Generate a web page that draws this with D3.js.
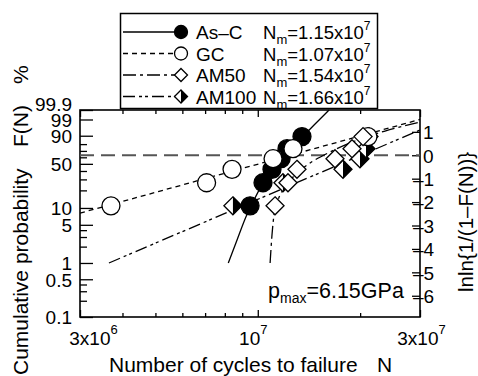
<!DOCTYPE html>
<html>
<head>
<meta charset="utf-8">
<script src="https://cdn.jsdelivr.net/npm/d3@7"></script>
<style>
  body { margin: 0; background: #fff; }
  text { font-family: "Liberation Sans", Arial, sans-serif; }
</style>
</head>
<body>
<div id="chart"></div>
<script>
// series
const seriesNames = ["As–C", "GC", "AM50", "AM100"];
const nmValues = ["1.15", "1.07", "1.54", "1.66"];

// cumulative probability (%) of the six specimens in every series
const rankF = [10.9, 26.6, 42.2, 57.8, 73.4, 89.1];

// cycles to failure
const ascN = [9.49e6, 1.036e7, 1.101e7, 1.171e7, 1.219e7, 1.349e7];
const gcN = [3.70e6, 7.07e6, 8.40e6, 1.109e7, 1.269e7, 2.109e7];
const am50N = [1.124e7, 1.227e7, 1.304e7, 1.687e7, 1.893e7, 2.04e7];
const am100N = [8.45e6, 1.186e7, 1.781e7, 1.998e7, 2.081e7, 2.124e7];

// fitted Weibull lines, [N, F%]
const ascFit = [[8.19e6, 1.0], [8.69e6, 2.65], [9.28e6, 7.5], [9.55e6, 10.8], [1.036e7, 26.3],
  [1.101e7, 41.3], [1.178e7, 58.7], [1.244e7, 74.4], [1.359e7, 89.7], [1.484e7, 98.1], [1.62e7, 99.9]];
const gcFit = [[3e6, 8.1], [3e7, 99.0]];
const am50Fit = [[1.087e7, 1.0], [1.101e7, 3.27], [1.116e7, 7.5], [1.147e7, 13.75], [1.203e7, 22.7],
  [1.287e7, 35.0], [1.425e7, 51.2], [1.631e7, 68.3], [1.931e7, 84.1], [2.367e7, 94.0], [3e7, 98.4]];
const am100Fit = [[3.65e6, 1.0], [3e7, 94.7]];

// ticks
const xMajor = [3e6, 1e7, 3e7];
const xMinor = [4e6, 5e6, 6e6, 7e6, 8e6, 9e6, 2e7];
const leftMajor = [0.1, 0.5, 1, 5, 10, 50, 90, 99, 99.9];
const leftMinor = [0.2, 0.3, 0.4, 2, 3, 4, 20, 30, 40, 60, 70, 80];
const rightTicks = [-6, -5, -4, -3, -2, -1, 0, 1];

const font = '"Liberation Sans", Arial, sans-serif';
const weib = F => Math.log(-Math.log(1 - F / 100));

const plot = {left: 80, top: 110, right: 420, bottom: 317};

const svg = d3.select("#chart")
  .append("svg")
  .attr("width", 478)
  .attr("height", 376);

const x = d3.scaleLog().domain([3e6, 3e7]).range([plot.left, plot.right]);
const y = d3.scaleLinear().domain([weib(0.1), weib(99.9)]).range([plot.bottom, plot.top]);

// axes (ticks point inwards)
function styleAxis(g) {
  g.select(".domain").remove();
  g.attr("font-family", font).attr("font-size", 19);
  g.selectAll("line").attr("stroke", "#000").attr("stroke-width", 1.3);
}

svg.append("g").attr("transform", `translate(${plot.left},0)`)
  .call(d3.axisLeft(y).tickValues(leftMinor.map(weib)).tickSize(-7).tickFormat(""))
  .call(styleAxis);
const gLeft = svg.append("g").attr("transform", `translate(${plot.left},0)`)
  .call(d3.axisLeft(y).tickValues(leftMajor.map(weib)).tickSize(-13).tickPadding(8)
    .tickFormat(d => String(leftMajor.find(f => Math.abs(weib(f) - d) < 1e-9))))
  .call(styleAxis);
gLeft.selectAll("text").attr("fill", "#000")
  .attr("dy", d => Math.abs(d - weib(99.9)) < 1e-9 ? "0" : "0.36em");

const gRight = svg.append("g").attr("transform", `translate(${plot.right},0)`)
  .call(d3.axisRight(y).tickValues(rightTicks).tickSize(-8).tickPadding(3)
    .tickFormat(d => d < 0 ? "–" + (-d) : String(d)))
  .call(styleAxis);
gRight.selectAll("text").attr("fill", "#000").attr("dy", "0.36em")
  .attr("x", d => d < 0 ? -7 : 3);

svg.append("g").attr("transform", `translate(0,${plot.bottom})`)
  .call(d3.axisBottom(x).tickValues(xMinor).tickSize(-4).tickFormat(""))
  .call(styleAxis);
svg.append("g").attr("transform", `translate(0,${plot.top})`)
  .call(d3.axisTop(x).tickValues(xMinor).tickSize(-4).tickFormat(""))
  .call(styleAxis);
svg.append("g").attr("transform", `translate(0,${plot.top})`)
  .call(d3.axisTop(x).tickValues(xMajor).tickSize(-7).tickFormat(""))
  .call(styleAxis);
const gBottom = svg.append("g").attr("transform", `translate(0,${plot.bottom})`)
  .call(d3.axisBottom(x).tickValues(xMajor).tickSize(-7).tickFormat(""))
  .call(styleAxis);

// bottom labels with superscripts
gBottom.selectAll(".tick text").each(function(d, i) {
  const t = d3.select(this).attr("fill", "#000").attr("y", 28).attr("dy", null)
    .attr("text-anchor", "middle").attr("dx", i === 0 ? 13 : (i === 1 ? -5 : 1));
  const e = Math.floor(Math.log10(d) + 1e-9);
  const m = Math.round(d / Math.pow(10, e));
  t.append("tspan").text(m === 1 ? "10" : m + "x10");
  t.append("tspan").attr("font-size", 13).attr("dy", -11).text(e);
});

// frame
svg.append("rect")
  .attr("x", plot.left).attr("y", plot.top)
  .attr("width", plot.right - plot.left).attr("height", plot.bottom - plot.top)
  .attr("fill", "none").attr("stroke", "#000").attr("stroke-width", 1.6);

// 63.2 % line
svg.append("line")
  .attr("x1", plot.left).attr("x2", plot.right)
  .attr("y1", y(0)).attr("y2", y(0))
  .attr("stroke", "#555").attr("stroke-width", 2).attr("stroke-dasharray", "14,7");

// fitted lines
svg.append("clipPath").attr("id", "clip")
  .append("rect").attr("x", plot.left).attr("y", plot.top - 2)
  .attr("width", plot.right - plot.left).attr("height", plot.bottom - plot.top + 2);

const dashes = ["", "5,4", "13,4,3,4", "12,4,3,3,3,4"];
const fits = [ascFit, gcFit, am50Fit, am100Fit];

const line = d3.line()
  .x(d => x(d[0]))
  .y(d => y(weib(d[1])))
  .curve(d3.curveMonotoneX);

svg.append("g").attr("clip-path", "url(#clip)")
  .selectAll("path")
  .data(fits)
  .enter()
  .append("path")
  .attr("d", line)
  .attr("fill", "none")
  .attr("stroke", "#000")
  .attr("stroke-width", 1.3)
  .attr("stroke-dasharray", (d, i) => dashes[i]);

// markers
const diamond = s => `M0,${-s}L${s},0L0,${s}L${-s},0Z`;
const halfDiamond = s => `M0,${-s}L${s},0L0,${s}Z`;

function drawMarker(g, kind, s) {
  if (kind === 0 || kind === 1) {
    g.append("circle").attr("r", s)
      .attr("fill", kind === 0 ? "#000" : "#fff")
      .attr("stroke", "#000").attr("stroke-width", 1.3);
  } else {
    g.append("path").attr("d", diamond(s))
      .attr("fill", "#fff").attr("stroke", "#000").attr("stroke-width", 1.3);
    if (kind === 3) {
      g.append("path").attr("d", halfDiamond(s)).attr("fill", "#000");
    }
  }
}

const seriesN = [ascN, gcN, am50N, am100N];
// drawing order: AM100, As-C, GC, AM50
[3, 0, 1, 2].forEach(k => {
  seriesN[k].forEach((n, i) => {
    const g = svg.append("g").attr("transform", `translate(${x(n)},${y(weib(rankF[i]))})`);
    drawMarker(g, k, 9);
  });
});

// legend
const legend = svg.append("g");
legend.append("rect")
  .attr("x", 120.5).attr("y", 13.5).attr("width", 257).attr("height", 95)
  .attr("fill", "#fff").attr("stroke", "#000").attr("stroke-width", 1.5);

seriesNames.forEach((name, i) => {
  const cy = 32 + i * 21.5;
  legend.append("line")
    .attr("x1", 123).attr("x2", 177).attr("y1", cy).attr("y2", cy)
    .attr("stroke", "#000").attr("stroke-width", 1.3)
    .attr("stroke-dasharray", dashes[i]);
  drawMarker(legend.append("g").attr("transform", `translate(181,${cy})`), i, 6.5);
  legend.append("text")
    .attr("x", 196).attr("y", cy + 7)
    .attr("font-size", 19).text(name);
  const t = legend.append("text")
    .attr("x", 263).attr("y", cy + 7).attr("font-size", 18.5).attr("fill", "#000");
  t.append("tspan").text("N");
  t.append("tspan").attr("font-size", 13).attr("dy", 5).text("m");
  t.append("tspan").attr("dy", -5).text("=" + nmValues[i] + "x10");
  t.append("tspan").attr("font-size", 12).attr("dy", -9).text("7");
});

// pmax note
const note = svg.append("text").attr("x", 268).attr("y", 298).attr("font-size", 21.5);
note.append("tspan").text("p");
note.append("tspan").attr("font-size", 14).attr("dy", 5).text("max");
note.append("tspan").attr("dy", -5).text("=6.15GPa");

// axis titles
svg.append("text").attr("x", 109).attr("y", 372).attr("font-size", 21)
  .text("Number of cycles to failure");
svg.append("text").attr("x", 377).attr("y", 372).attr("font-size", 21).text("N");

svg.append("text").attr("transform", "translate(28,375) rotate(-90)")
  .attr("font-size", 21).text("Cumulative probability");
svg.append("text").attr("transform", "translate(28,147) rotate(-90)")
  .attr("font-size", 21).text("F(N)");
svg.append("text").attr("transform", "translate(28,84) rotate(-90)")
  .attr("font-size", 21).text("%");

svg.append("text").attr("transform", "translate(473,292) rotate(-90)")
  .attr("font-size", 20.5).text("lnln{1/(1–F(N))}");
</script>
</body>
</html>
